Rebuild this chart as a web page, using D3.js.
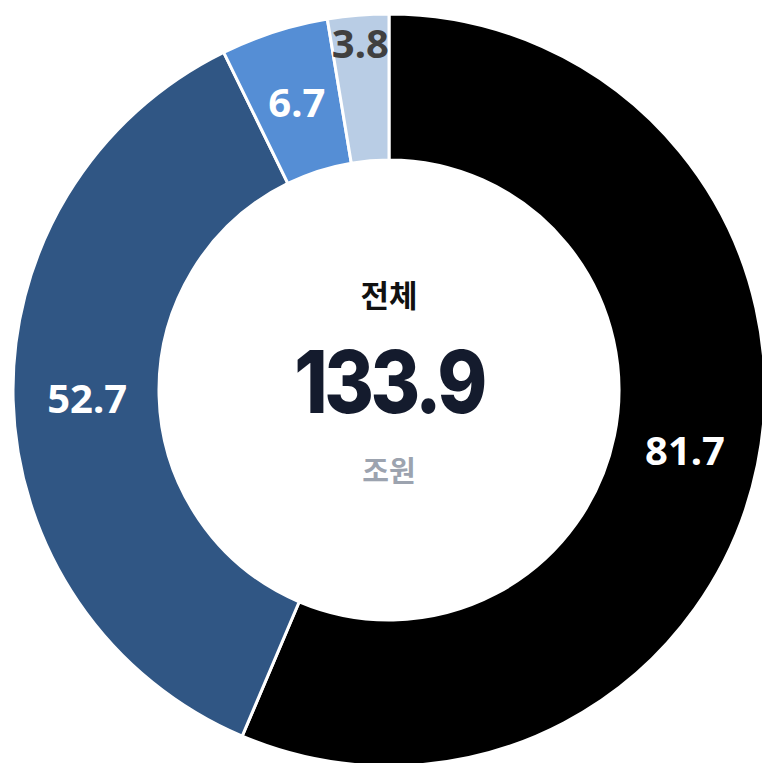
<!DOCTYPE html>
<html>
<head>
<meta charset="utf-8">
<script src="https://cdn.jsdelivr.net/npm/d3@7"></script>
<style>
  html, body { margin: 0; padding: 0; background: #fff; }
  svg { display: block; }
</style>
</head>
<body>
<svg id="chart"></svg>
<script>
const width = 762;
const height = 763;

// slice values, clockwise from top
const labels = ["A", "B", "C", "D"];
const values = [81.7, 52.7, 6.7, 3.8];
const colors = ["#000000", "#305684", "#558ED5", "#B9CDE5"];
const labelColors = ["#ffffff", "#ffffff", "#ffffff", "#404040"];
const totalLabel = "133.9";

const cx = 389, cy = 390;
const outerR = 376, innerR = 230;

const svg = d3.select("#chart")
    .attr("width", width)
    .attr("height", height);

const data = labels.map((k, i) => ({ key: k, value: values[i], i }));

const pie = d3.pie()
    .value(d => d.value)
    .sort(null);

const arc = d3.arc()
    .innerRadius(innerR)
    .outerRadius(outerR);

const arcs = pie(data);

const g = svg.append("g")
    .attr("transform", `translate(${cx}, ${cy})`);

// slices
g.selectAll("path")
    .data(arcs)
    .enter()
    .append("path")
    .attr("d", arc)
    .attr("fill", d => colors[d.data.i])
    .attr("stroke", "#ffffff")
    .attr("stroke-width", 3)
    .attr("stroke-linejoin", "miter");

// value labels (small slice pushed outward)
const labelArc = d3.arc().innerRadius(302).outerRadius(302);
const outArc = d3.arc().innerRadius(348).outerRadius(348);

g.selectAll("text.val")
    .data(arcs)
    .enter()
    .append("text")
    .attr("class", "val")
    .attr("transform", d => `translate(${(d.data.value < 5 ? outArc : labelArc).centroid(d)})`)
    .attr("text-anchor", "middle")
    .attr("dy", "0.36em")
    .attr("font-family", "'Noto Sans', 'Open Sans', sans-serif")
    .attr("font-weight", 700)
    .attr("font-size", 40)
    .attr("fill", d => labelColors[d.data.i])
    .text(d => d.data.value);

// center texts
g.append("text")
    .attr("text-anchor", "middle")
    .attr("y", -83)
    .attr("font-family", "'Noto Sans CJK KR', sans-serif")
    .attr("font-weight", 700)
    .attr("font-size", 31)
    .attr("fill", "#111111")
    .text("전체");

g.append("text")
    .attr("text-anchor", "middle")
    .attr("transform", "translate(0, 23) scale(0.87, 1)")
    .attr("font-family", "Inter, sans-serif")
    .attr("font-weight", 800)
    .attr("font-size", 87)
    .attr("letter-spacing", -4)
    .attr("fill", "#141B2D")
    .text(totalLabel);

g.append("text")
    .attr("text-anchor", "middle")
    .attr("y", 92)
    .attr("font-family", "'Noto Sans CJK KR', sans-serif")
    .attr("font-weight", 700)
    .attr("font-size", 29)
    .attr("fill", "#9CA3AF")
    .text("조원");
</script>
</body>
</html>
